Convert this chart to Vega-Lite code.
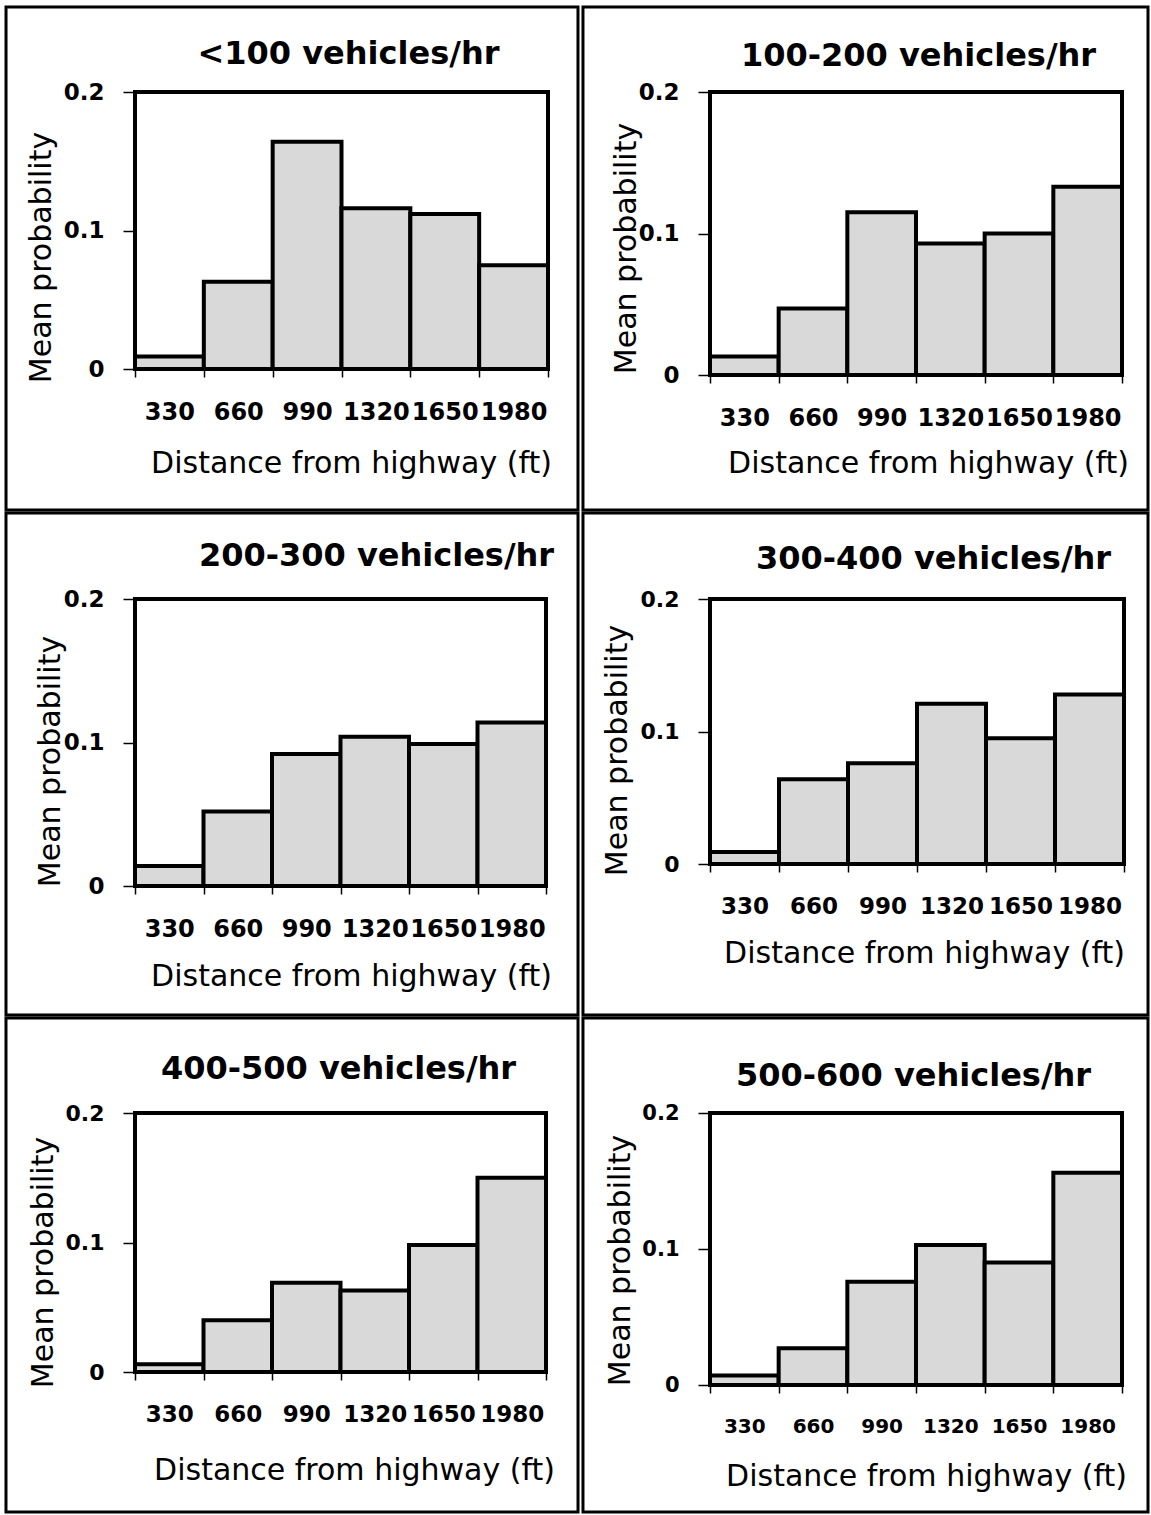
{
  "$schema": "https://vega.github.io/schema/vega-lite/v6.json",
  "padding": {"left": 2, "top": 3, "right": 0, "bottom": 0},
  "background": "white",
  "data": {"values": [
    {"panel": "p1", "dist": 330, "p": 0.009}, {"panel": "p1", "dist": 660, "p": 0.063}, {"panel": "p1", "dist": 990, "p": 0.164},
    {"panel": "p1", "dist": 1320, "p": 0.116}, {"panel": "p1", "dist": 1650, "p": 0.112}, {"panel": "p1", "dist": 1980, "p": 0.075},
    {"panel": "p2", "dist": 330, "p": 0.013}, {"panel": "p2", "dist": 660, "p": 0.047}, {"panel": "p2", "dist": 990, "p": 0.115},
    {"panel": "p2", "dist": 1320, "p": 0.093}, {"panel": "p2", "dist": 1650, "p": 0.100}, {"panel": "p2", "dist": 1980, "p": 0.133},
    {"panel": "p3", "dist": 330, "p": 0.014}, {"panel": "p3", "dist": 660, "p": 0.052}, {"panel": "p3", "dist": 990, "p": 0.092},
    {"panel": "p3", "dist": 1320, "p": 0.104}, {"panel": "p3", "dist": 1650, "p": 0.099}, {"panel": "p3", "dist": 1980, "p": 0.114},
    {"panel": "p4", "dist": 330, "p": 0.009}, {"panel": "p4", "dist": 660, "p": 0.064}, {"panel": "p4", "dist": 990, "p": 0.076},
    {"panel": "p4", "dist": 1320, "p": 0.121}, {"panel": "p4", "dist": 1650, "p": 0.095}, {"panel": "p4", "dist": 1980, "p": 0.128},
    {"panel": "p5", "dist": 330, "p": 0.006}, {"panel": "p5", "dist": 660, "p": 0.040}, {"panel": "p5", "dist": 990, "p": 0.069},
    {"panel": "p5", "dist": 1320, "p": 0.063}, {"panel": "p5", "dist": 1650, "p": 0.098}, {"panel": "p5", "dist": 1980, "p": 0.150},
    {"panel": "p6", "dist": 330, "p": 0.007}, {"panel": "p6", "dist": 660, "p": 0.027}, {"panel": "p6", "dist": 990, "p": 0.076},
    {"panel": "p6", "dist": 1320, "p": 0.103}, {"panel": "p6", "dist": 1650, "p": 0.090}, {"panel": "p6", "dist": 1980, "p": 0.156}
  ]},
  "columns": 2,
  "align": "each",
  "bounds": "full",
  "spacing": {"row": -5, "column": -3},
  "concat": [
    {
      "width": 413, "height": 277,
      "layer": [
        {
          "transform": [{"filter": "datum.panel == 'p1'"}],
          "mark": {"type": "bar", "fill": "#d9d9d9", "stroke": "black", "strokeWidth": 4},
          "encoding": {
            "x": {"field": "dist", "type": "ordinal", "scale": {"paddingInner": 0, "paddingOuter": 0},
                  "axis": {"title": "Distance from highway (ft)", "titleX": 216, "titleY": 103}},
            "y": {"field": "p", "type": "quantitative", "scale": {"domain": [0, 0.2], "nice": false},
                  "axis": {"values": [0, 0.1, 0.2], "format": "~g", "title": "Mean probability", "titleX": -85, "titleY": 165}}
          }
        },
        {
          "data": {"values": [{}]},
          "mark": {"type": "rect", "fill": "transparent", "stroke": "black", "strokeWidth": 3},
          "encoding": {
            "x": {"datum": -0.3123, "type": "quantitative", "scale": {"domain": [0, 1], "nice": false, "zero": false},
                  "axis": {"orient": "top", "title": "<100 vehicles/hr", "titleX": 213, "titleY": -29, "labels": false, "ticks": false, "domain": false, "titleFontSize": 32, "titleFontWeight": "bold"}},
            "x2": {"datum": 1.0726},
            "y": {"datum": 1.3069, "type": "quantitative", "scale": {"domain": [0, 1], "nice": false, "zero": false}, "axis": null},
            "y2": {"datum": -0.5090}
          }
        }
      ],
      "resolve": {"scale": {"x": "independent", "y": "independent"}}
    },
    {
      "width": 412, "height": 283,
      "layer": [
        {
          "transform": [{"filter": "datum.panel == 'p2'"}],
          "mark": {"type": "bar", "fill": "#d9d9d9", "stroke": "black", "strokeWidth": 4},
          "encoding": {
            "x": {"field": "dist", "type": "ordinal", "scale": {"paddingInner": 0, "paddingOuter": 0},
                  "axis": {"title": "Distance from highway (ft)", "titleX": 218, "titleY": 97}},
            "y": {"field": "p", "type": "quantitative", "scale": {"domain": [0, 0.2], "nice": false},
                  "axis": {"values": [0, 0.1, 0.2], "format": "~g", "title": "Mean probability", "titleX": -75, "titleY": 156}}
          }
        },
        {
          "data": {"values": [{}]},
          "mark": {"type": "rect", "fill": "transparent", "stroke": "black", "strokeWidth": 3},
          "encoding": {
            "x": {"datum": -0.3083, "type": "quantitative", "scale": {"domain": [0, 1], "nice": false, "zero": false},
                  "axis": {"orient": "top", "title": "100-200 vehicles/hr", "titleX": 208, "titleY": -27, "labels": false, "ticks": false, "domain": false, "titleFontSize": 32, "titleFontWeight": "bold"}},
            "x2": {"datum": 1.0631},
            "y": {"datum": 1.3004, "type": "quantitative", "scale": {"domain": [0, 1], "nice": false, "zero": false}, "axis": null},
            "y2": {"datum": -0.4770}
          }
        }
      ],
      "resolve": {"scale": {"x": "independent", "y": "independent"}}
    },
    {
      "width": 411, "height": 287,
      "layer": [
        {
          "transform": [{"filter": "datum.panel == 'p3'"}],
          "mark": {"type": "bar", "fill": "#d9d9d9", "stroke": "black", "strokeWidth": 4},
          "encoding": {
            "x": {"field": "dist", "type": "ordinal", "scale": {"paddingInner": 0, "paddingOuter": 0},
                  "axis": {"title": "Distance from highway (ft)", "titleX": 216, "titleY": 99}},
            "y": {"field": "p", "type": "quantitative", "scale": {"domain": [0, 0.2], "nice": false},
                  "axis": {"values": [0, 0.1, 0.2], "format": "~g", "title": "Mean probability", "titleX": -76, "titleY": 162}}
          }
        },
        {
          "data": {"values": [{}]},
          "mark": {"type": "rect", "fill": "transparent", "stroke": "black", "strokeWidth": 3},
          "encoding": {
            "x": {"datum": -0.3139, "type": "quantitative", "scale": {"domain": [0, 1], "nice": false, "zero": false},
                  "axis": {"orient": "top", "title": "200-300 vehicles/hr", "titleX": 241, "titleY": -34, "labels": false, "ticks": false, "domain": false, "titleFontSize": 32, "titleFontWeight": "bold"}},
            "x2": {"datum": 1.0779},
            "y": {"datum": 1.2997, "type": "quantitative", "scale": {"domain": [0, 1], "nice": false, "zero": false}, "axis": null},
            "y2": {"datum": -0.4495}
          }
        }
      ],
      "resolve": {"scale": {"x": "independent", "y": "independent"}}
    },
    {
      "width": 414, "height": 265,
      "layer": [
        {
          "transform": [{"filter": "datum.panel == 'p4'"}],
          "mark": {"type": "bar", "fill": "#d9d9d9", "stroke": "black", "strokeWidth": 4},
          "encoding": {
            "x": {"field": "dist", "type": "ordinal", "scale": {"paddingInner": 0, "paddingOuter": 0},
                  "axis": {"title": "Distance from highway (ft)", "titleX": 214, "titleY": 98, "labelFontSize": 23}},
            "y": {"field": "p", "type": "quantitative", "scale": {"domain": [0, 0.2], "nice": false},
                  "axis": {"values": [0, 0.1, 0.2], "format": "~g", "title": "Mean probability", "titleX": -84, "titleY": 151, "labelFontSize": 22}}
          }
        },
        {
          "data": {"values": [{}]},
          "mark": {"type": "rect", "fill": "transparent", "stroke": "black", "strokeWidth": 3},
          "encoding": {
            "x": {"datum": -0.3068, "type": "quantitative", "scale": {"domain": [0, 1], "nice": false, "zero": false},
                  "axis": {"orient": "top", "title": "300-400 vehicles/hr", "titleX": 223, "titleY": -31, "labels": false, "ticks": false, "domain": false, "titleFontSize": 32, "titleFontWeight": "bold"}},
            "x2": {"datum": 1.0580},
            "y": {"datum": 1.3245, "type": "quantitative", "scale": {"domain": [0, 1], "nice": false, "zero": false}, "axis": null},
            "y2": {"datum": -0.5698}
          }
        }
      ],
      "resolve": {"scale": {"x": "independent", "y": "independent"}}
    },
    {
      "width": 411, "height": 259,
      "layer": [
        {
          "transform": [{"filter": "datum.panel == 'p5'"}],
          "mark": {"type": "bar", "fill": "#d9d9d9", "stroke": "black", "strokeWidth": 4},
          "encoding": {
            "x": {"field": "dist", "type": "ordinal", "scale": {"paddingInner": 0, "paddingOuter": 0},
                  "axis": {"title": "Distance from highway (ft)", "titleX": 219, "titleY": 107, "labelFontSize": 23}},
            "y": {"field": "p", "type": "quantitative", "scale": {"domain": [0, 0.2], "nice": false},
                  "axis": {"values": [0, 0.1, 0.2], "format": "~g", "title": "Mean probability", "titleX": -83, "titleY": 149, "labelFontSize": 22}}
          }
        },
        {
          "data": {"values": [{}]},
          "mark": {"type": "rect", "fill": "transparent", "stroke": "black", "strokeWidth": 3},
          "encoding": {
            "x": {"datum": -0.3139, "type": "quantitative", "scale": {"domain": [0, 1], "nice": false, "zero": false},
                  "axis": {"orient": "top", "title": "400-500 vehicles/hr", "titleX": 203, "titleY": -35, "labels": false, "ticks": false, "domain": false, "titleFontSize": 32, "titleFontWeight": "bold"}},
            "x2": {"datum": 1.0779},
            "y": {"datum": 1.3668, "type": "quantitative", "scale": {"domain": [0, 1], "nice": false, "zero": false}, "axis": null},
            "y2": {"datum": -0.5405}
          }
        }
      ],
      "resolve": {"scale": {"x": "independent", "y": "independent"}}
    },
    {
      "width": 412, "height": 272,
      "layer": [
        {
          "transform": [{"filter": "datum.panel == 'p6'"}],
          "mark": {"type": "bar", "fill": "#d9d9d9", "stroke": "black", "strokeWidth": 4},
          "encoding": {
            "x": {"field": "dist", "type": "ordinal", "scale": {"paddingInner": 0, "paddingOuter": 0},
                  "axis": {"title": "Distance from highway (ft)", "titleX": 216, "titleY": 100, "labelFontSize": 20}},
            "y": {"field": "p", "type": "quantitative", "scale": {"domain": [0, 0.2], "nice": false},
                  "axis": {"values": [0, 0.1, 0.2], "format": "~g", "title": "Mean probability", "titleX": -81, "titleY": 147, "labelFontSize": 21}}
          }
        },
        {
          "data": {"values": [{}]},
          "mark": {"type": "rect", "fill": "transparent", "stroke": "black", "strokeWidth": 3},
          "encoding": {
            "x": {"datum": -0.3083, "type": "quantitative", "scale": {"domain": [0, 1], "nice": false, "zero": false},
                  "axis": {"orient": "top", "title": "500-600 vehicles/hr", "titleX": 203, "titleY": -28, "labels": false, "ticks": false, "domain": false, "titleFontSize": 32, "titleFontWeight": "bold"}},
            "x2": {"datum": 1.0631},
            "y": {"datum": 1.3493, "type": "quantitative", "scale": {"domain": [0, 1], "nice": false, "zero": false}, "axis": null},
            "y2": {"datum": -0.4669}
          }
        }
      ],
      "resolve": {"scale": {"x": "independent", "y": "independent"}}
    }
  ],
  "config": {
    "view": {"stroke": "black", "strokeWidth": 4},
    "axis": {"labelFont": "DejaVu Sans", "labelFontWeight": "bold", "labelColor": "black", "titleFont": "DejaVu Sans", "titleFontWeight": "normal", "titleFontSize": 30, "titleColor": "black", "grid": false, "domain": false, "tickColor": "black", "tickWidth": 1.5, "labelOverlap": false},
    "axisX": {"tickSize": 8, "labelPadding": 23.5, "labelFontSize": 24, "tickBand": "extent", "labelAngle": 0, "titleBaseline": "alphabetic", "titleAlign": "center"},
    "axisY": {"tickSize": 12, "labelPadding": 19, "labelFontSize": 23, "titleBaseline": "alphabetic", "titleAngle": -90, "titleAlign": "center"}
  }
}
